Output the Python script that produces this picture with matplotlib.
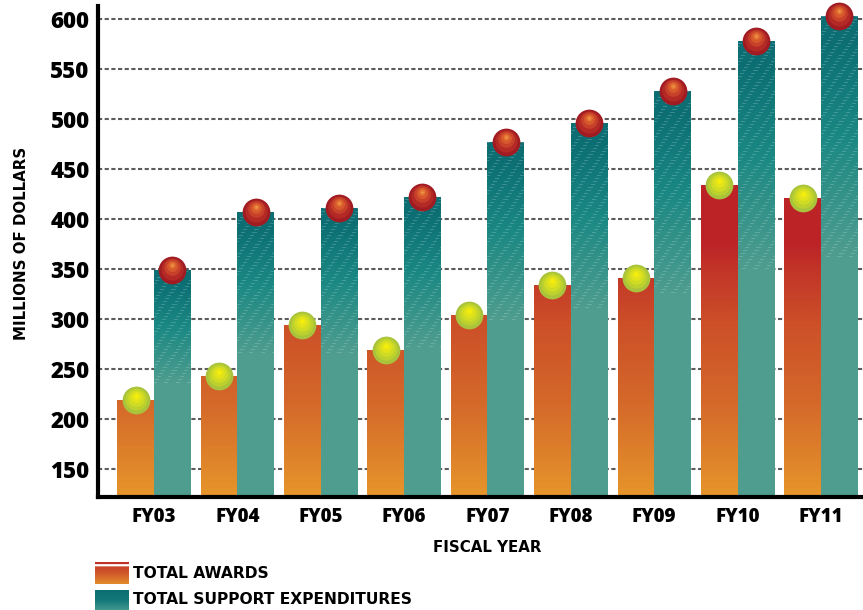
import numpy as np
import matplotlib.pyplot as plt
from matplotlib.colors import LinearSegmentedColormap, to_rgb

# data (millions of dollars)
years = ['FY03', 'FY04', 'FY05', 'FY06', 'FY07', 'FY08', 'FY09', 'FY10', 'FY11']
awards = [219, 243, 294, 269, 304, 334, 341, 434, 421]
support = [349, 407, 411, 422, 477, 496, 528, 578, 603]
yticks = [150, 200, 250, 300, 350, 400, 450, 500, 550, 600]

ymin, ymax = 122, 613
bw = 0.44

award_cmap = LinearSegmentedColormap.from_list(
    'aw', [(0.0, '#E6952B'), (0.3, '#D4682A'), (0.55, '#CC4F28'),
           (0.72, '#C23428'), (0.8, '#BC2327'), (1.0, '#BC2327')])
teal_dark = np.array(to_rgb('#0C6E73'))
teal_mid = np.array(to_rgb('#1B8883'))
teal_light = np.array(to_rgb('#4F9D8F'))

fig = plt.figure(figsize=(8.63, 6.10), dpi=100)
ax = fig.add_axes([98 / 863, 113 / 610, 1 - 98 / 863, (497 - 6) / 610])
x = np.arange(len(years))
ax.set_xlim(-0.671, 8.504)
ax.set_ylim(ymin, ymax)

# dashed grid behind everything
ax.hlines(yticks, -0.671, 8.504, colors='#5c5c5c', linewidth=1.5,
          linestyles=(0, (2, 1.2)), zorder=0)

bars_a = ax.bar(x - bw / 2, awards, width=bw, facecolor='none', linewidth=0)
bars_s = ax.bar(x + bw / 2, support, width=bw, facecolor='none', linewidth=0)

# gradient fill for awards: colour depends on value
for p in bars_a:
    x0, top = p.get_x(), p.get_height()
    n = int(top - ymin)
    vals = np.linspace(ymin, top, n)
    t = (vals - ymin) / (440 - ymin)
    img = award_cmap(np.clip(t, 0, 1))[:, None, :3].repeat(36, axis=1)
    ax.imshow(img, extent=[x0, x0 + bw, ymin, top], origin='lower',
              aspect='auto', zorder=2, interpolation='bilinear')

# teal fill with a light base and streaky darker top
for i, p in enumerate(bars_s):
    x0, top = p.get_x(), p.get_height()
    n = int(top - ymin)
    w = 36
    f = np.linspace(0, 1, n)
    img = np.zeros((n, w, 3))
    for r in range(n):
        if f[r] < 0.5:
            c = teal_light
        elif f[r] < 0.75:
            k = (f[r] - 0.5) / 0.25
            c = teal_light * (1 - k) + teal_mid * k
        else:
            k = min((f[r] - 0.75) / 0.2, 1)
            c = teal_mid * (1 - k) + teal_dark * k
        img[r, :, :] = c
        if f[r] >= 0.5 and r % 3 == 0:
            cols = (np.arange(w) + r * 3 + i * 7) % 11 < 4
            img[r, cols, :] = img[r, cols, :] * 0.78 + 0.22 * np.array([0.8, 0.93, 0.9])
    ax.imshow(img, extent=[x0, x0 + bw, ymin, top], origin='lower',
              aspect='auto', zorder=2, interpolation='nearest')

# shaded balls on top of the bars
red_layers = [(1.0, '#A01C22', 0), (0.8, '#B32925', 1.5), (0.6, '#C6402A', 3),
              (0.4, '#D6582C', 4), (0.22, '#E47634', 5), (0.08, '#F09A50', 5.5)]
yel_layers = [(1.0, '#A9C43C', 0), (0.8, '#BCD02E', 1.5), (0.6, '#D0DB24', 2.5),
              (0.4, '#E2E31A', 3.5), (0.2, '#F0EB10', 4), (0.07, '#FFF200', 4.5)]
for frac, col, dy in yel_layers:
    ax.scatter(x - bw / 2, np.array(awards) + dy, s=400 * frac ** 2, color=col,
               linewidths=0, zorder=4, clip_on=False)
for frac, col, dy in red_layers:
    ax.scatter(x + bw / 2, np.array(support) + dy, s=400 * frac ** 2, color=col,
               linewidths=0, zorder=4, clip_on=False)

for s in ['top', 'right']:
    ax.spines[s].set_visible(False)
for s in ['left', 'bottom']:
    ax.spines[s].set_linewidth(3)
    ax.spines[s].set_zorder(5)

ax.set_yticks(yticks)
ax.set_yticklabels([str(v) for v in yticks], fontfamily='Open Sans',
                   fontweight=800, fontsize=16)
ax.set_xticks(x)
ax.set_xticklabels(years, fontfamily='Open Sans', fontweight=800, fontsize=13.5)
ax.tick_params(length=0)
ax.tick_params(axis='y', pad=6)
ax.tick_params(axis='x', pad=7)

fig.text(22 / 863, 1 - 243 / 610, 'MILLIONS OF DOLLARS', rotation=90,
         ha='center', va='center', fontweight='bold', fontsize=10.8)
fig.text(487 / 863, 1 - 547 / 610, 'FISCAL YEAR', ha='center', va='center',
         fontweight='bold', fontsize=10.8)

# legend swatches
lg1 = fig.add_axes([95 / 863, 1 - 584 / 610, 33 / 863, 22 / 610])
sw = LinearSegmentedColormap.from_list('sw', ['#E38A2A', '#D0562A', '#C4382A'])
g = sw(np.linspace(0, 1, 20))[:, None, :3].repeat(10, axis=1)
g[-2:] = np.array(to_rgb('#C0302A'))
g[-4:-2] = 1.0
lg1.imshow(g, origin='lower', aspect='auto', extent=[0, 1, 0, 1])
lg1.axis('off')
lg2 = fig.add_axes([95 / 863, 0, 33 / 863, 20 / 610])
sw2 = LinearSegmentedColormap.from_list('sw2', ['#3E978C', '#13777A', '#0B6E73'])
g2 = sw2(np.linspace(0, 1, 20))[:, None, :3].repeat(10, axis=1)
lg2.imshow(g2, origin='lower', aspect='auto', extent=[0, 1, 0, 1])
lg2.axis('off')
fig.text(133 / 863, 1 - 573 / 610, 'TOTAL AWARDS', ha='left', va='center',
         fontweight='bold', fontsize=11.2)
fig.text(133 / 863, 1 - 600 / 610, 'TOTAL SUPPORT EXPENDITURES', ha='left',
         va='center', fontweight='bold', fontsize=11.2)

fig.savefig('out.png', dpi=100)
